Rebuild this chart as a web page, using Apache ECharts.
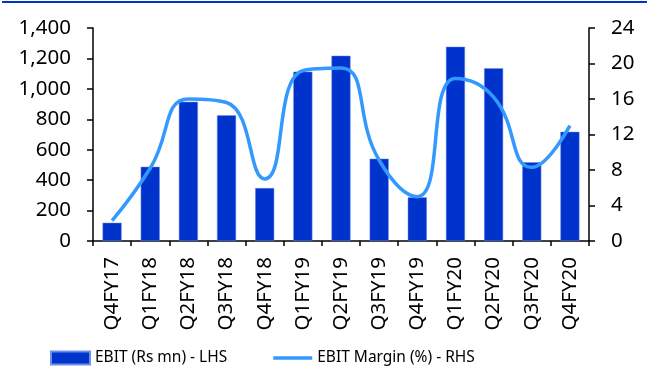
<!DOCTYPE html>
<html lang="en">
<head>
  <meta charset="UTF-8">
  <title>EBIT chart</title>
  <style>
    * { margin: 0; padding: 0; }
    body { background: #fff; }
    #chart { width: 653px; height: 369px; }
  </style>
</head>
<body>
  <div id="chart"></div>
  <script src="https://cdn.jsdelivr.net/npm/echarts@6/dist/echarts.min.js"></script>
  <script>
    // data
    const quarters = ['Q4FY17', 'Q1FY18', 'Q2FY18', 'Q3FY18', 'Q4FY18', 'Q1FY19', 'Q2FY19',
                      'Q3FY19', 'Q4FY19', 'Q1FY20', 'Q2FY20', 'Q3FY20', 'Q4FY20'];
    const ebit = [120, 488, 915, 826, 348, 1113, 1218, 541, 287, 1277, 1135, 517, 718];
    const ebitMargin = [2.3, 8.2, 16.0, 15.6, 7.0, 19.2, 19.5, 9.1, 5.0, 18.3, 16.2, 8.3, 13.0];

    const font = "'Noto Sans', sans-serif";
    const chart = echarts.init(document.getElementById('chart'));

    chart.setOption({
      animation: false,
      textStyle: { fontFamily: font },
      // thin blue rule along the top
      graphic: [{
        type: 'rect',
        shape: { x: 2, y: 1, width: 645, height: 2 },
        style: { fill: '#0033CC' }
      }],
      grid: { left: 93, right: 64, top: 28, bottom: 128 },
      legend: {
        bottom: 3,
        left: 50,
        padding: 0,
        itemWidth: 39,
        itemHeight: 13,
        itemGap: 46,
        textStyle: { color: '#000', fontSize: 15.5, fontFamily: font },
        data: [
          { name: 'EBIT (Rs mn) - LHS', icon: 'rect' },
          { name: 'EBIT Margin (%) - RHS', icon: 'path://M0,0 L40,0 L40,3.5 L0,3.5 Z', itemStyle: { color: '#3399FF' } }
        ]
      },
      xAxis: {
        type: 'category',
        data: quarters,
        axisLine: { lineStyle: { color: '#000', width: 1.5 } },
        axisTick: { show: true, length: 5, lineStyle: { color: '#000', width: 1.5 } },
        axisLabel: { rotate: 90, color: '#000', fontSize: 20.5, margin: 16, interval: 0 }
      },
      yAxis: [{
        type: 'value',
        min: 0, max: 1400, interval: 200,
        splitLine: { show: false },
        axisLine: { show: true, lineStyle: { color: '#000', width: 1.5 } },
        axisTick: { show: true, length: 6, lineStyle: { color: '#000', width: 1.5 } },
        axisLabel: {
          color: '#000', fontSize: 20.5, margin: 22,
          formatter: v => v.toLocaleString('en-US')
        }
      }, {
        type: 'value',
        min: 0, max: 24, interval: 4,
        splitLine: { show: false },
        axisLine: { show: true, lineStyle: { color: '#000', width: 1.5 } },
        axisTick: { show: true, length: 6, lineStyle: { color: '#000', width: 1.5 } },
        axisLabel: { color: '#000', fontSize: 20.5, margin: 22 }
      }],
      series: [{
        name: 'EBIT (Rs mn) - LHS',
        type: 'bar',
        data: ebit,
        barWidth: '50%',
        itemStyle: { color: '#0033CC', borderColor: '#6F8FE8', borderWidth: 0.5 }
      }, {
        name: 'EBIT Margin (%) - RHS',
        type: 'line',
        yAxisIndex: 1,
        data: ebitMargin,
        smooth: 0.5,
        symbol: 'none',
        lineStyle: { color: '#3399FF', width: 3.5 },
        itemStyle: { color: '#3399FF' }
      }]
    });
  </script>
</body>
</html>
